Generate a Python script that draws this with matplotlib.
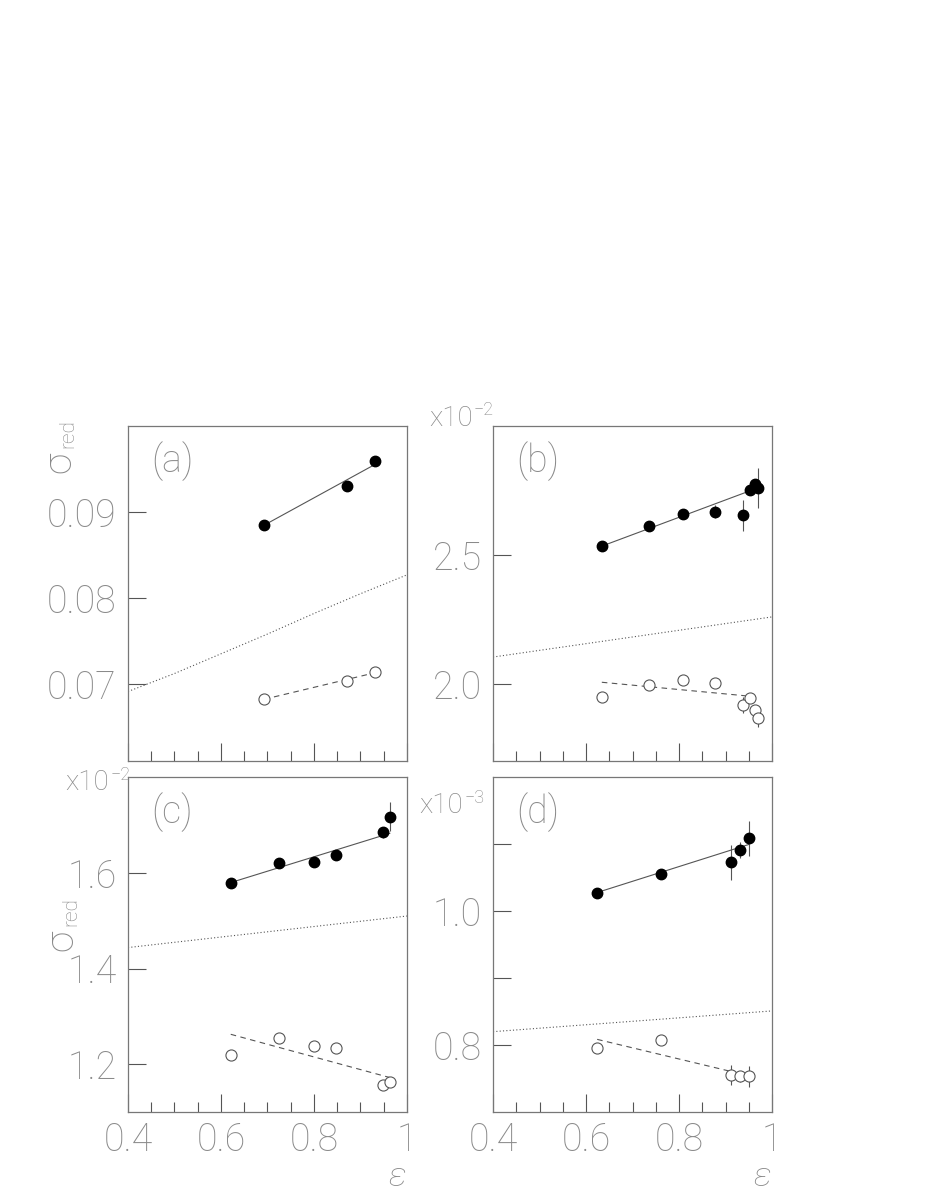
import matplotlib
matplotlib.use("Agg")
import matplotlib.pyplot as plt
from matplotlib.ticker import FixedLocator, MultipleLocator

# ── data (y in displayed units) ─────────────────────────────────
# panel (a)
a_x = [0.693, 0.870, 0.932]
a_full = [0.0885, 0.0931, 0.0960]
a_full_err = [0.0003, 0.0004, 0.0003]
a_open = [0.0682, 0.0703, 0.0714]
a_open_err = [0.0002, 0.0002, 0.0002]
a_fit_x = [0.693, 0.932]
a_fit_full = [0.0885, 0.0956]
a_fit_open = [0.0682, 0.0713]
a_curve_x = [0.4, 0.5, 0.6, 0.7, 0.8, 0.9, 1.0]
a_curve_y = [0.0691, 0.0712, 0.0735, 0.0758, 0.0782, 0.0805, 0.0827]

# panel (b), x10^-2
b_x = [0.634, 0.735, 0.809, 0.877, 0.938, 0.953, 0.963, 0.969]
b_full = [2.535, 2.612, 2.660, 2.669, 2.655, 2.753, 2.775, 2.760]
b_full_err = [0.012, 0.012, 0.012, 0.025, 0.061, 0.018, 0.02, 0.078]
b_open = [1.948, 1.997, 2.013, 2.005, 1.918, 1.944, 1.899, 1.868]
b_open_err = [0.008, 0.008, 0.008, 0.01, 0.03, 0.012, 0.02, 0.035]
b_fit_x = [0.634, 0.963]
b_fit_full = [2.535, 2.757]
b_fit_open = [2.006, 1.950]
b_curve_x = [0.4, 0.7, 1.0]
b_curve_y = [2.104, 2.182, 2.260]

# panel (c), x10^-2
c_x = [0.621, 0.724, 0.801, 0.847, 0.949, 0.963]
c_full = [1.580, 1.621, 1.622, 1.637, 1.685, 1.718]
c_full_err = [0.008, 0.008, 0.008, 0.01, 0.012, 0.031]
c_open = [1.219, 1.255, 1.238, 1.233, 1.157, 1.162]
c_open_err = [0.005, 0.005, 0.005, 0.005, 0.008, 0.01]
c_fit_x = [0.621, 0.963]
c_fit_full = [1.580, 1.683]
c_fit_open = [1.2625, 1.172]
c_curve_x = [0.4, 0.7, 1.0]
c_curve_y = [1.444, 1.477, 1.510]

# panel (d), x10^-3
d_x = [0.624, 0.761, 0.911, 0.931, 0.951]
d_full = [1.028, 1.056, 1.073, 1.092, 1.109]
d_full_err = [0.005, 0.006, 0.026, 0.012, 0.026]
d_open = [0.795, 0.807, 0.755, 0.753, 0.753]
d_open_err = [0.004, 0.004, 0.015, 0.008, 0.015]
d_fit_x = [0.624, 0.951]
d_fit_full = [1.028, 1.100]
d_fit_open = [0.8085, 0.754]
d_curve_x = [0.4, 0.7, 1.0]
d_curve_y = [0.820, 0.8355, 0.851]

panels = [
    dict(tag="(a)", x=a_x, full=a_full, full_err=a_full_err, open=a_open,
         open_err=a_open_err, fit_x=a_fit_x, fit_full=a_fit_full, fit_open=a_fit_open,
         cx=a_curve_x, cy=a_curve_y, ylim=(0.061, 0.1),
         yticks=[0.07, 0.08, 0.09], ylabels=["0.07", "0.08", "0.09"], mult=None),
    dict(tag="(b)", x=b_x, full=b_full, full_err=b_full_err, open=b_open,
         open_err=b_open_err, fit_x=b_fit_x, fit_full=b_fit_full, fit_open=b_fit_open,
         cx=b_curve_x, cy=b_curve_y, ylim=(1.7, 3.0),
         yticks=[2.0, 2.5], ylabels=["2.0", "2.5"], mult="x10"),
    dict(tag="(c)", x=c_x, full=c_full, full_err=c_full_err, open=c_open,
         open_err=c_open_err, fit_x=c_fit_x, fit_full=c_fit_full, fit_open=c_fit_open,
         cx=c_curve_x, cy=c_curve_y, ylim=(1.1, 1.8),
         yticks=[1.2, 1.4, 1.6], ylabels=["1.2", "1.4", "1.6"], mult="x10"),
    dict(tag="(d)", x=d_x, full=d_full, full_err=d_full_err, open=d_open,
         open_err=d_open_err, fit_x=d_fit_x, fit_full=d_fit_full, fit_open=d_fit_open,
         cx=d_curve_x, cy=d_curve_y, ylim=(0.7, 1.2),
         yticks=[0.8, 0.9, 1.0, 1.1], ylabels=["0.8", "", "1.0", ""], mult="x10"),
]
mult_exp = [None, "−2", "−2", "−3"]

plt.rcParams["font.family"] = ["Roboto", "DejaVu Sans"]
plt.rcParams["font.weight"] = "light"

GREY = "#8a8a8a"
DARK = "#555555"

fig = plt.figure(figsize=(9.26, 11.99), dpi=100)

# axes rectangles in figure fractions
lefts = [0.1382, 0.5324, 0.1382, 0.5324]
bottoms = [0.3653, 0.3653, 0.0726, 0.0726]
W, H = 0.3013, 0.2790

# where the "x10^n" multiplier sits, in axes fractions
mult_pos = [None, (-0.23, 1.025), (-0.225, 0.985), (-0.265, 0.915)]

for i, p in enumerate(panels):
    ax = fig.add_axes([lefts[i], bottoms[i], W, H])

    ax.plot(p["cx"], p["cy"], ls=(0, (1, 2)), color=DARK, lw=0.8)
    ax.plot(p["fit_x"], p["fit_full"], "-", color=DARK, lw=0.8)
    ax.plot(p["fit_x"], p["fit_open"], ls=(0, (5, 4)), color=DARK, lw=0.8)

    ax.errorbar(p["x"], p["full"], yerr=p["full_err"], fmt="o", ms=7.5,
                color="black", ecolor=DARK, elinewidth=0.8, capsize=0, zorder=4)
    ax.errorbar(p["x"], p["open"], yerr=p["open_err"], fmt="o", ms=8,
                mfc="white", mec=DARK, mew=0.8, ecolor=DARK, elinewidth=0.8,
                capsize=0, zorder=4)

    ax.set_xlim(0.4, 1.0)
    ax.set_ylim(*p["ylim"])

    ax.xaxis.set_major_locator(FixedLocator([0.4, 0.6, 0.8, 1.0]))
    ax.xaxis.set_minor_locator(MultipleLocator(0.05))
    ax.yaxis.set_major_locator(FixedLocator(p["yticks"]))
    ax.tick_params(axis="both", which="major", direction="in", length=13,
                   width=0.8, color=DARK, labelcolor=GREY, labelsize=27)
    ax.tick_params(axis="x", which="minor", direction="in", length=7,
                   width=0.8, color=DARK)
    ax.tick_params(axis="x", which="major", pad=7)
    ax.tick_params(axis="y", which="major", pad=8)
    ax.tick_params(axis="y", which="minor", left=False)
    ax.set_yticklabels(p["ylabels"])

    if i < 2:
        ax.set_xticklabels([])
    else:
        ax.set_xticklabels(["0.4", "0.6", "0.8", "1"])
        ax.text(0.965, -0.195, "ε", transform=ax.transAxes,
                ha="center", va="center", fontsize=24, color=GREY,
                fontstyle="italic")

    for s in ax.spines.values():
        s.set_color("#777777")
        s.set_linewidth(0.9)

    ax.text(0.085, 0.896, p["tag"], transform=ax.transAxes, ha="left",
            va="center", fontsize=27, color=GREY)

    if p["mult"] is not None:
        mx, my = mult_pos[i]
        t = ax.text(mx, my, p["mult"], transform=ax.transAxes,
                    ha="left", va="center", fontsize=20, color=GREY)
        ax.annotate(mult_exp[i], xy=(1, 1), xycoords=t, xytext=(1, -4),
                    textcoords="offset points", ha="left", va="center",
                    fontsize=13, color=GREY)


def sigma_red(x, y):
    # rotated label: "red" sits as a subscript, i.e. to the right of sigma
    fig.text(x, y, "σ", rotation=90, ha="center", va="center",
             fontsize=28, color=GREY)
    fig.text(x + 0.009, y + 0.024, "red", rotation=90, ha="center",
             va="center", fontsize=15, color=GREY)


# sigma_red labels on the left column
sigma_red(0.064, 1 - 462 / 1199)
sigma_red(0.067, 1 - 940 / 1199)

fig.savefig("out.png", dpi=100, facecolor="white")
